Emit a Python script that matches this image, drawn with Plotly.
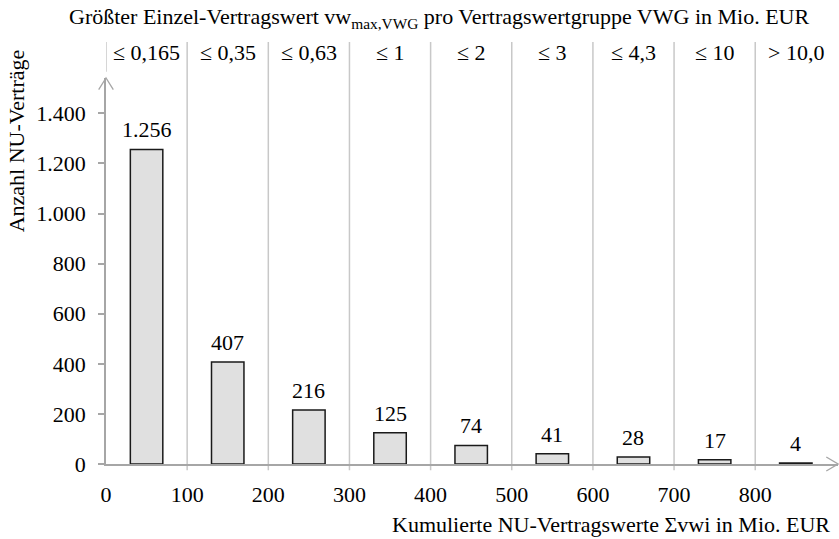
# Anzahl NU-Verträge je Vertragswertgruppe (Balken über kumulierten Vertragswerten)

import plotly.graph_objects as go

# Daten
group_labels = ["≤ 0,165", "≤ 0,35", "≤ 0,63", "≤ 1", "≤ 2", "≤ 3", "≤ 4,3", "≤ 10", "> 10,0"]
bar_centers = [50, 150, 250, 350, 450, 550, 650, 750, 850]
contract_counts = [1256, 407, 216, 125, 74, 41, 28, 17, 4]
x_ticks = [0, 100, 200, 300, 400, 500, 600, 700, 800]
y_ticks = [0, 200, 400, 600, 800, 1000, 1200, 1400]

font_family = "Liberation Serif"
font_size = 22
grid_color = "#c8c8c8"
axis_color = "#a6a6a6"

fig = go.Figure()

fig.add_trace(go.Bar(
    x=bar_centers,
    y=contract_counts,
    width=40,
    marker=dict(color="#e0e0e0", line=dict(color="#1a1a1a", width=1.5)),
    showlegend=False,
))

# vertical separators, reaching up into the group label row
shapes = []
for xv in x_ticks[1:]:
    shapes.append(dict(type="line", xref="x", yref="paper", x0=xv, x1=xv,
                       y0=-0.016, y1=1.093, line=dict(color=grid_color, width=1.5),
                       layer="below"))
shapes.append(dict(type="line", xref="x", yref="paper", x0=0, x1=0,
                   y0=1.016, y1=1.093, line=dict(color=grid_color, width=1.5),
                   layer="below"))
# open arrow heads on the axes
shapes.append(dict(type="path", xref="paper", yref="paper",
                   path="M 0.984,0.018 L 1,0 L 0.984,-0.018",
                   line=dict(color=axis_color, width=1.3)))
shapes.append(dict(type="path", xref="paper", yref="paper",
                   path="M -0.010,0.970 L 0,1 L 0.010,0.970",
                   line=dict(color=axis_color, width=1.3)))

annotations = []
# value labels above the bars
for xv, v in zip(bar_centers, contract_counts):
    annotations.append(dict(x=xv, y=v, xref="x", yref="y", text=f"{v:,}".replace(",", "."),
                            showarrow=False, yanchor="bottom", yshift=5,
                            font=dict(size=font_size, color="black")))
# group labels on top
for xv, lab in zip(bar_centers, group_labels):
    annotations.append(dict(x=xv, y=1.067, xref="x", yref="paper", text=lab,
                            showarrow=False, yanchor="middle",
                            font=dict(size=font_size, color="black")))

annotations.append(dict(x=0.455, y=1.155, xref="paper", yref="paper",
                        text="Größter Einzel-Vertragswert vw<sub>max,VWG</sub> pro Vertragswertgruppe VWG in Mio. EUR",
                        showarrow=False, yanchor="middle", xanchor="center",
                        font=dict(size=font_size, color="black")))
annotations.append(dict(x=0.992, y=-0.158, xref="paper", yref="paper",
                        text="Kumulierte NU-Vertragswerte Σvwi in Mio. EUR",
                        showarrow=False, xanchor="right", yanchor="middle",
                        font=dict(size=font_size, color="black")))
annotations.append(dict(x=-0.122, y=1.080, xref="paper", yref="paper",
                        text="Anzahl NU-Verträge", textangle=-90,
                        showarrow=False, xanchor="center", yanchor="top",
                        font=dict(size=font_size, color="black")))

fig.update_layout(
    width=839,
    height=539,
    margin=dict(l=106, r=1, t=78, b=75),
    plot_bgcolor="white",
    paper_bgcolor="white",
    separators=",.",
    font=dict(family=font_family, size=font_size, color="black"),
    shapes=shapes,
    annotations=annotations,
    xaxis=dict(range=[0, 902], tickvals=x_ticks, showgrid=False, zeroline=False,
               showline=True, linecolor=axis_color, linewidth=1.5,
               ticks="", ticklabelstandoff=10),
    yaxis=dict(range=[0, 1541], tickvals=y_ticks, showgrid=False, zeroline=False,
               showline=True, linecolor=axis_color, linewidth=1.5,
               ticks="outside", ticklen=6, tickcolor=axis_color, tickwidth=1.5,
               separatethousands=True, ticklabelstandoff=8),
)

# page margin off, so the 839x539 figure fills the window exactly
fig.write_html("out.html", config={"displayModeBar": False},
               post_script="document.body.style.margin='0';")
